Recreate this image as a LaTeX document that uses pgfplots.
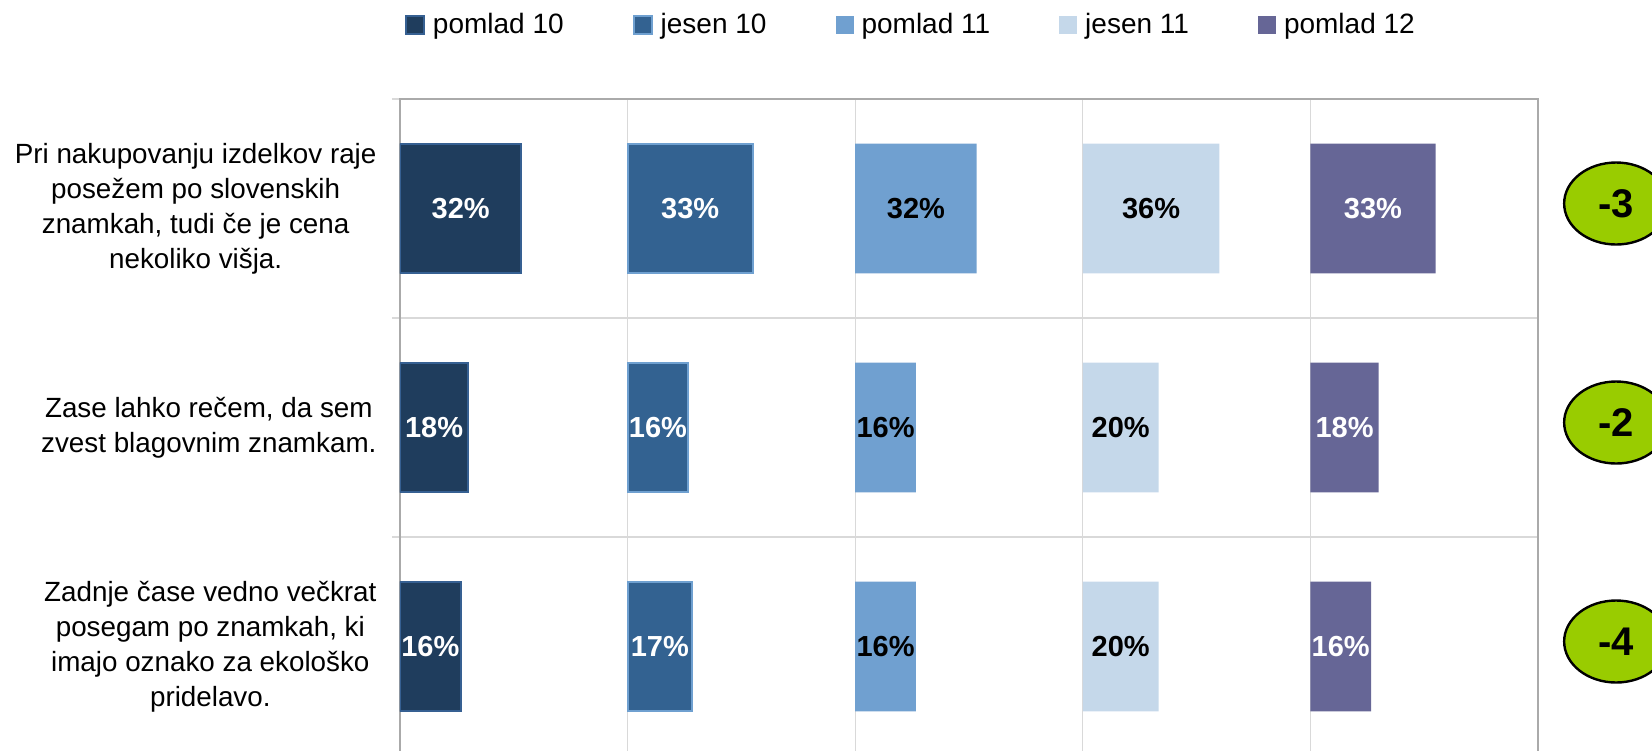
\documentclass[border=0pt]{standalone}
\usepackage{pgfplots}
\usepackage{pgfplotstable}
\usepackage{fontspec}
\setmainfont{Liberation Sans}
\pgfplotsset{compat=1.18}
\usetikzlibrary{shapes.geometric}

\definecolor{cA}{RGB}{31,61,93}
\definecolor{cAline}{RGB}{54,96,146}
\definecolor{cB}{RGB}{51,98,145}
\definecolor{cBline}{RGB}{111,160,208}
\definecolor{cC}{RGB}{112,160,208}
\definecolor{cD}{RGB}{197,216,234}
\definecolor{cE}{RGB}{102,102,150}
\definecolor{lime}{RGB}{153,204,0}
\definecolor{frameGray}{RGB}{170,170,170}
\definecolor{gridGray}{RGB}{217,217,217}

% shares per statement, last column = change
\pgfplotstableread{
row p10 j10 p11 j11 p12 d
0   32  33  32  36  33  -3
1   18  16  16  20  18  -2
2   16  17  16  20  16  -4
}\data

\begin{document}
\begin{tikzpicture}

    \begin{axis}[
            scale only axis,
            width=569pt,
            height=328.5pt,
            xbar stacked,
            bar width=64.85pt,
            xmin=0, xmax=300,
            ymin=-0.5, ymax=2.5,
            y dir=reverse,
            xtick={60,120,180,240},
            xticklabels={},
            xmajorgrids,
            major x tick style={draw=none},
            ytick={0,1,2},
            yticklabels={
                    {Pri nakupovanju izdelkov raje\\posežem po slovenskih\\znamkah, tudi če je cena\\nekoliko višja.},
                    {Zase lahko rečem, da sem\\zvest blagovnim znamkam.},
                    {Zadnje čase vedno večkrat\\posegam po znamkah, ki\\imajo oznako za ekološko\\pridelavo.}
                },
            major y tick style={draw=none},
            minor ytick={-0.5,0.5,1.5},
            yminorgrids,
            minor y tick style={draw=gridGray, line width=0.8pt},
            minor tick length=4pt,
            tick align=outside,
            ytick pos=left,
            xtick pos=bottom,
            yticklabel style={
                    align=center, inner sep=0pt,
                    anchor=east, xshift=-7.3pt,
                    font=\fontsize{13.9}{17.5}\selectfont
                },
            grid style={draw=gridGray, line width=0.6pt},
            minor grid style={draw=gridGray, line width=0.6pt},
            axis line style={draw=frameGray, line width=1pt},
            legend columns=5,
            legend style={
                    at={(axis description cs:0.004,1.1126)},
                    anchor=west,
                    draw=none, fill=none,
                    inner sep=0pt,
                    font=\fontsize{14}{17}\selectfont,
                    nodes={inner xsep=4pt, inner ysep=0pt},
                    /tikz/every even column/.append style={column sep=30.5pt}
                },
            legend image code/.code={
                    \path[#1, line width=1pt] (0pt,-4.5pt) rectangle (9pt,4.5pt);
                },
        ]

        \addplot[fill=cA, draw=cAline, line width=1pt] table[x=p10, y=row] {\data};
        \addlegendentry{pomlad 10}
        \addplot[draw=none, fill=none, forget plot] table[x expr=60-\thisrow{p10}, y=row] {\data};

        \addplot[fill=cB, draw=cBline, line width=1pt] table[x=j10, y=row] {\data};
        \addlegendentry{jesen 10}
        \addplot[draw=none, fill=none, forget plot] table[x expr=60-\thisrow{j10}, y=row] {\data};

        \addplot[fill=cC, draw=none] table[x=p11, y=row] {\data};
        \addlegendentry{pomlad 11}
        \addplot[draw=none, fill=none, forget plot] table[x expr=60-\thisrow{p11}, y=row] {\data};

        \addplot[fill=cD, draw=none] table[x=j11, y=row] {\data};
        \addlegendentry{jesen 11}
        \addplot[draw=none, fill=none, forget plot] table[x expr=60-\thisrow{j11}, y=row] {\data};

        \addplot[fill=cE, draw=none] table[x=p12, y=row] {\data};
        \addlegendentry{pomlad 12}

    \end{axis}

    % labels on top of the bars, and the change bubbles on the right
    \begin{axis}[
            scale only axis,
            width=569pt,
            height=328.5pt,
            xmin=0, xmax=300,
            ymin=-0.5, ymax=2.5,
            y dir=reverse,
            hide axis,
            clip=false,
            point meta=explicit symbolic,
            nodes near coords={\pgfplotspointmeta\%},
            every node near coord/.append style={
                    anchor=center, inner sep=0pt,
                    font=\bfseries\fontsize{14.5}{17}\selectfont
                },
        ]
        \addplot[only marks, mark=none, every node near coord/.append style={text=white}]
        table[x expr=\thisrow{p10}/2, y=row, meta=p10] {\data};
        \addplot[only marks, mark=none, every node near coord/.append style={text=white}]
        table[x expr=60+\thisrow{j10}/2, y=row, meta=j10] {\data};
        \addplot[only marks, mark=none, every node near coord/.append style={text=black}]
        table[x expr=120+\thisrow{p11}/2, y=row, meta=p11] {\data};
        \addplot[only marks, mark=none, every node near coord/.append style={text=black}]
        table[x expr=180+\thisrow{j11}/2, y=row, meta=j11] {\data};
        \addplot[only marks, mark=none, every node near coord/.append style={text=white}]
        table[x expr=240+\thisrow{p12}/2, y=row, meta=p12] {\data};

        \addplot[
            only marks, mark=none,
            nodes near coords={\pgfplotspointmeta},
            every node near coord/.append style={
                    shape=ellipse, draw=black, line width=1.2pt, fill=lime,
                    minimum width=52pt, minimum height=41pt, yshift=2.5pt,
                    font=\bfseries\fontsize{20}{24}\selectfont
                }
        ] table[x expr=320.6, y=row, meta=d] {\data};
    \end{axis}

    \pgfresetboundingbox
    \path (-200pt,3pt) rectangle (626pt,378pt);

\end{tikzpicture}
\end{document}
